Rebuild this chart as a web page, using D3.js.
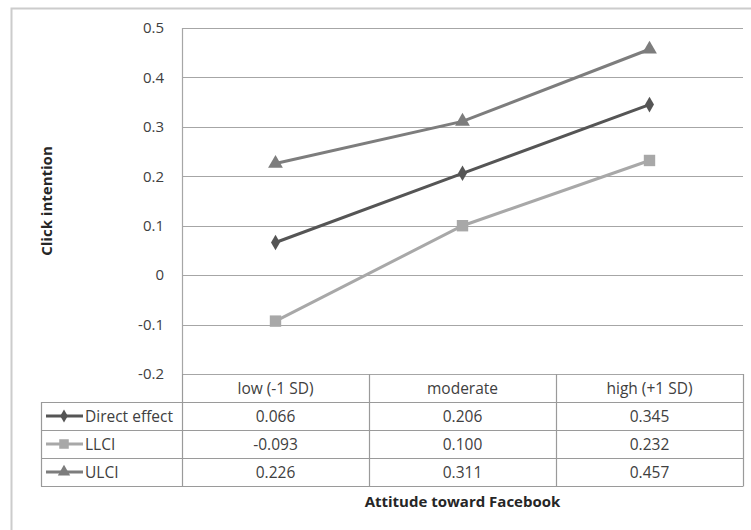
<!DOCTYPE html>
<html><head><meta charset="utf-8">
<script src="https://cdn.jsdelivr.net/npm/d3@7"></script>
<style>body{margin:0;background:#fff;overflow:hidden}text{font-family:"Open Sans",sans-serif}</style>
</head><body><svg id="c" width="751" height="530"></svg>
<script>
const categories = ["low (-1 SD)", "moderate", "high (+1 SD)"];
const seriesNames = ["Direct effect", "LLCI", "ULCI"];
const directEffect = [0.066, 0.206, 0.345];
const llci = [-0.093, 0.100, 0.232];
const ulci = [0.226, 0.311, 0.457];
const yTicks = [-0.2, -0.1, 0, 0.1, 0.2, 0.3, 0.4, 0.5];
const yTitle = "Click intention";
const xTitle = "Attitude toward Facebook";

const series = [
  {name: seriesNames[0], values: directEffect, color: "#555555", symbol: d3.symbolDiamond, size: 70},
  {name: seriesNames[1], values: llci, color: "#a8a8a8", symbol: d3.symbolSquare, size: 130},
  {name: seriesNames[2], values: ulci, color: "#7d7d7d", symbol: d3.symbolTriangle, size: 95}
];

const fmtHy = f => v => f(v).replace("\u2212", "-");
const svg = d3.select("#c");
const L = 182, R = 743, T = 28, B = 374;
const x = d3.scaleBand().domain(categories).range([L, R]);
const y = d3.scaleLinear().domain([-0.2, 0.5]).range([B, T]);

// outer frame (right and bottom edges fall outside the picture)
svg.append("rect").attr("x", 11.5).attr("y", 8.5).attr("width", 760).attr("height", 540)
  .attr("fill", "none").attr("stroke", "#cccccc").attr("stroke-width", 2);

// gridlines
svg.append("g").selectAll("line").data(yTicks).join("line")
  .attr("x1", L).attr("x2", R).attr("y1", d => Math.round(y(d)) + 0.5).attr("y2", d => Math.round(y(d)) + 0.5)
  .attr("stroke", "#a6a6a6").attr("stroke-width", 1.2);
// y axis line
svg.append("line").attr("x1", L + 0.5).attr("x2", L + 0.5).attr("y1", T).attr("y2", B)
  .attr("stroke", "#a6a6a6").attr("stroke-width", 1.2);

// y tick labels via axis
const yAxis = svg.append("g").attr("transform", `translate(${L},0)`)
  .call(d3.axisLeft(y).tickValues(yTicks).tickFormat(d => d === 0 ? "0" : fmtHy(d3.format(".1f"))(d)).tickSize(0).tickPadding(18));
yAxis.select(".domain").remove();
yAxis.selectAll("text").attr("font-size", 15).attr("fill", "#404040").attr("font-family", "Open Sans");

// y title
svg.append("text").attr("transform", `translate(52,${(T + B) / 2}) rotate(-90)`)
  .attr("text-anchor", "middle").attr("font-size", 15).attr("font-weight", "bold").attr("fill", "#262626").text(yTitle);

// lines
const line = d3.line().x((d, i) => x(categories[i]) + x.bandwidth() / 2).y(d => y(d));
series.forEach(s => {
  svg.append("path").datum(s.values).attr("d", line).attr("fill", "none")
    .attr("stroke", s.color).attr("stroke-width", 3);
  svg.append("g").selectAll("path").data(s.values).join("path")
    .attr("d", d3.symbol().type(s.symbol).size(s.size))
    .attr("transform", (d, i) => `translate(${x(categories[i]) + x.bandwidth() / 2},${y(d)})`)
    .attr("fill", s.color);
});

// data table
const rowH = 28, headTop = B, tblLeft = 41;
const tbl = svg.append("g");
const stroke = "#9a9a9a";
const fs = 15.5;
categories.forEach(c => {
  tbl.append("text").attr("x", x(c) + x.bandwidth() / 2).attr("y", headTop + rowH / 2 + 5.5)
    .attr("text-anchor", "middle").attr("font-size", fs).attr("fill", "#404040").text(c);
});
for (let r = 1; r <= 4; r++) {
  const yy = headTop + r * rowH + 0.5;
  tbl.append("line").attr("x1", tblLeft).attr("x2", R).attr("y1", yy).attr("y2", yy).attr("stroke", stroke).attr("stroke-width", 1.2);
}
[L, ...categories.map(c => x(c) + x.bandwidth())].forEach(xx => {
  tbl.append("line").attr("x1", Math.round(xx) + 0.5).attr("x2", Math.round(xx) + 0.5)
    .attr("y1", headTop).attr("y2", headTop + 4 * rowH + 0.5).attr("stroke", stroke).attr("stroke-width", 1.2);
});
tbl.append("line").attr("x1", tblLeft + 0.5).attr("x2", tblLeft + 0.5)
  .attr("y1", headTop + rowH).attr("y2", headTop + 4 * rowH + 0.5).attr("stroke", stroke).attr("stroke-width", 1.2);

series.forEach((s, r) => {
  const cy = headTop + (r + 1) * rowH + rowH / 2;
  tbl.append("line").attr("x1", 46).attr("x2", 83).attr("y1", cy).attr("y2", cy).attr("stroke", s.color).attr("stroke-width", 3);
  tbl.append("path").attr("d", d3.symbol().type(s.symbol).size(s.size * 0.7)).attr("transform", `translate(64,${cy})`).attr("fill", s.color);
  tbl.append("text").attr("x", 85).attr("y", cy + 5.5).attr("font-size", fs).attr("fill", "#404040").text(s.name);
  s.values.forEach((v, i) => {
    tbl.append("text").attr("x", x(categories[i]) + x.bandwidth() / 2).attr("y", cy + 5.5)
      .attr("text-anchor", "middle").attr("font-size", fs).attr("fill", "#404040").text(fmtHy(d3.format(".3f"))(v));
  });
});

// x title
svg.append("text").attr("x", (L + R) / 2).attr("y", 507).attr("text-anchor", "middle")
  .attr("font-size", 15).attr("font-weight", "bold").attr("fill", "#262626").text(xTitle);
</script></body></html>
